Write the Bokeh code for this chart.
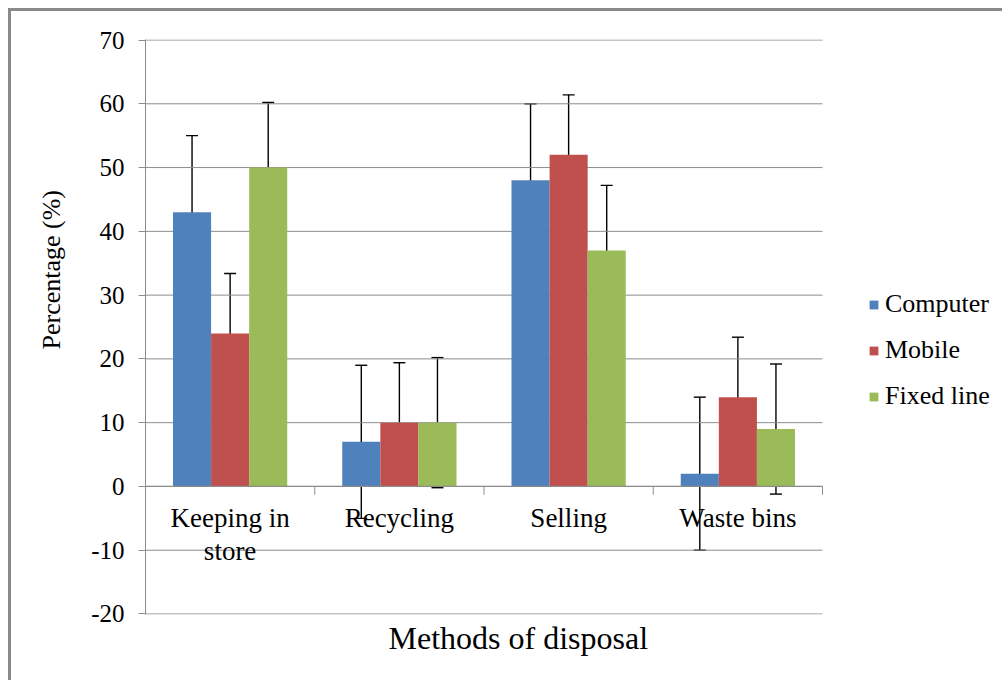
from bokeh.plotting import figure
from bokeh.models import (ColumnDataSource, Range1d, Whisker, TeeHead,
                          Legend, LegendItem, Title)
from bokeh.core.properties import value
from bokeh.embed import file_html
from bokeh.resources import INLINE

categories = ["Keeping in store", "Recycling", "Selling", "Waste bins"]
category_labels = ["Keeping in\nstore", "Recycling", "Selling", "Waste bins"]
series = ["Computer", "Mobile", "Fixed line"]
computer = [43, 7, 48, 2]
mobile = [24, 10, 52, 14]
fixed_line = [50, 10, 37, 9]
computer_err = [12, 12, 12, 12]
mobile_err = [9.4, 9.4, 9.4, 9.4]
fixed_line_err = [10.2, 10.2, 10.2, 10.2]
colors = ["#4F81BD", "#C0504D", "#9BBB59"]
y_ticks = [-20, -10, 0, 10, 20, 30, 40, 50, 60, 70]
y_tick_labels = ["-20", "-10", "0", "10", "20", "30", "40", "50", "60", "70"]

FONT = "Liberation Serif"
GRID = "#8c8c8c"

n = len(categories)
centers = [i + 0.5 for i in range(n)]
# the frame runs on to the right edge so that the legend can sit inside it
x_end = n * 860 / 677
pad = 0.08
p = figure(x_range=Range1d(0, x_end),
           y_range=Range1d(y_ticks[0] - pad, y_ticks[-1] + pad),
           width=994, height=672, output_backend="svg", toolbar_location=None,
           min_border_left=134, min_border_right=0, min_border_top=28, min_border_bottom=69)
p.styles = {"margin-left": "8px", "margin-top": "8px",
            "border-left": "3px solid #8a8a8a", "border-top": "3px solid #8a8a8a"}
p.outline_line_color = None
p.background_fill_color = "white"
p.border_fill_color = "white"
p.xgrid.grid_line_color = None
p.ygrid.grid_line_color = None

# horizontal gridlines over the category area only
p.segment(x0=[0] * len(y_ticks), x1=[n] * len(y_ticks), y0=y_ticks, y1=y_ticks,
          line_color=GRID, line_width=1)

vals = [computer, mobile, fixed_line]
errs = [computer_err, mobile_err, fixed_line_err]
bar_w = 0.225
offsets = [-bar_w, 0.0, bar_w]
items = []
for name, v, e, c, off in zip(series, vals, errs, colors, offsets):
    src = ColumnDataSource(dict(x=[cx + off for cx in centers], val=v,
                                upper=[a + b for a, b in zip(v, e)],
                                lower=[a - b for a, b in zip(v, e)]))
    r = p.vbar(x="x", top="val", bottom=0, width=bar_w,
               source=src, fill_color=c, line_color=None)
    items.append(LegendItem(label=name, renderers=[r]))
    w = Whisker(base="x", upper="upper", lower="lower", source=src,
                line_color="black", line_width=1.4,
                upper_head=TeeHead(size=12, line_color="black", line_width=1.4),
                lower_head=TeeHead(size=12, line_color="black", line_width=1.4))
    p.add_layout(w)

# category axis at zero: line, boundary ticks, labels
p.segment(x0=[0], x1=[n], y0=[0], y1=[0], line_color=GRID, line_width=1.2)
bounds = list(range(n + 1))
p.segment(x0=bounds, x1=bounds, y0=[0] * len(bounds), y1=[-1.3] * len(bounds),
          line_color=GRID, line_width=1)
p.text(x=centers, y=[0] * n, text=category_labels,
       text_font=value(FONT), text_font_size="27px", text_color="black",
       text_align="center", text_baseline="top", y_offset=17, text_line_height=1.08)

# y axis
p.yaxis.ticker = y_ticks
p.yaxis.major_label_overrides = dict(zip(y_ticks, y_tick_labels))
p.yaxis.major_label_text_font = FONT
p.yaxis.major_label_text_font_size = "25px"
p.yaxis.major_label_text_color = "black"
p.yaxis.major_label_standoff = 14
p.yaxis.axis_line_color = GRID
p.yaxis.major_tick_line_color = GRID
p.yaxis.major_tick_out = 7
p.yaxis.major_tick_in = 0
p.yaxis.minor_tick_line_color = None
p.xaxis.visible = False

p.add_layout(Title(text="Percentage (%)", align="left", offset=265, standoff=46, text_font=FONT,
                   text_font_size="26px", text_font_style="normal", text_color="black"), "left")
p.add_layout(Title(text="Methods of disposal", align="left", offset=243, standoff=6, text_font=FONT,
                   text_font_size="32px", text_font_style="normal", text_color="black"), "below")

legend = Legend(items=items, location=(723, 203), orientation="vertical",
                label_text_font=FONT, label_text_font_size="26px", label_text_color="black",
                glyph_width=11, glyph_height=11, label_standoff=6, spacing=16,
                padding=0, margin=0, border_line_color=None, background_fill_alpha=0)
p.add_layout(legend, "center")

open("out.html", "w").write(file_html(p, INLINE))
